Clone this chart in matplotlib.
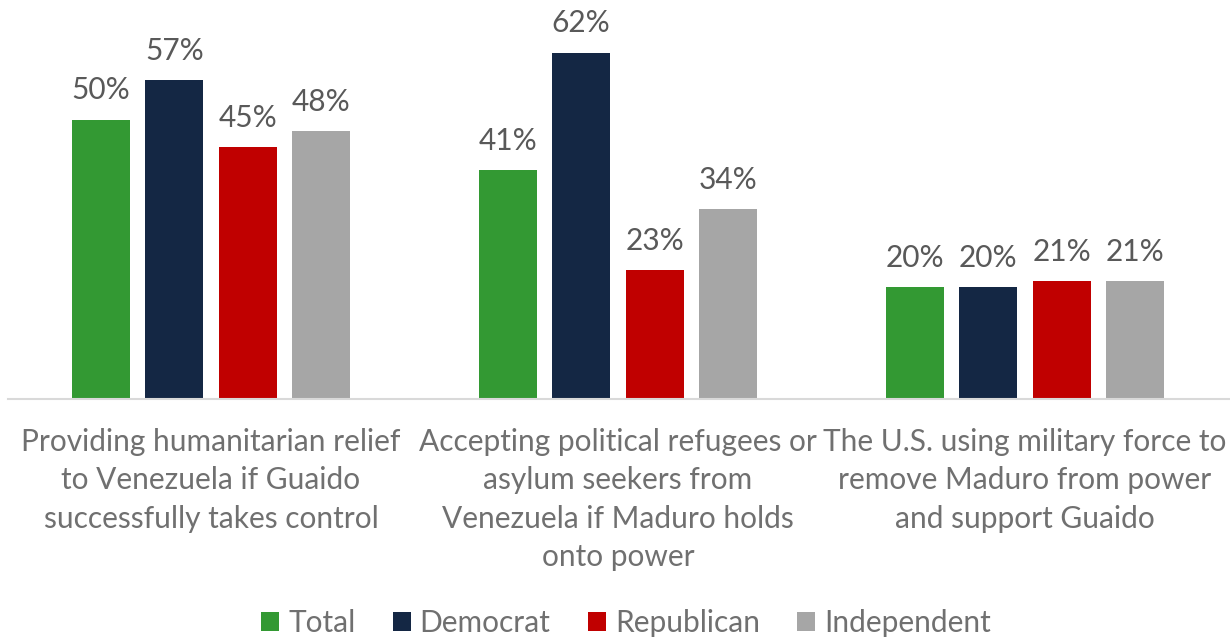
import matplotlib
matplotlib.use("Agg")
import matplotlib.pyplot as plt
import numpy as np

plt.rcParams['font.family'] = ['Lato', 'DejaVu Sans']

categories = [
    "Providing humanitarian relief\nto Venezuela if Guaido\nsuccessfully takes control",
    "Accepting political refugees or\nasylum seekers from\nVenezuela if Maduro holds\nonto power",
    "The U.S. using military force to\nremove Maduro from power\nand support Guaido",
]
series_names = ["Total", "Democrat", "Republican", "Independent"]
total = [50, 41, 20]
democrat = [57, 62, 20]
republican = [45, 23, 21]
independent = [48, 34, 21]
colors = ["#339933", "#142744", "#C00000", "#A6A6A6"]

values = [total, democrat, republican, independent]

fig = plt.figure(figsize=(12.3, 6.43), dpi=100)
ax = fig.add_axes([7.5/1230, 1-398.5/643, 1221/1230, 390.6/643])

x = np.arange(len(categories))
width = 0.1425
step = 0.1806
for i, (name, vals, c) in enumerate(zip(series_names, values, colors)):
    pos = x + (i - 1.5) * step
    ax.bar(pos, vals, width, color=c, label=name)
    for xp, v in zip(pos, vals):
        ax.text(xp, v + 2.7, f"{v}%", ha="center", va="bottom",
                fontsize=21.5, color="#595959")

ax.set_xlim(-0.5, 2.5)
ax.set_ylim(0, 70)
ax.set_yticks([])
ax.set_xticks([])
for s in ["top", "right", "left"]:
    ax.spines[s].set_visible(False)
ax.spines["bottom"].set_color("#D9D9D9")
ax.spines["bottom"].set_linewidth(1.5)

for xi, cat in zip(x, categories):
    ax.text(xi, -5.2, cat, ha="center", va="top", fontsize=21.5,
            color="#707070", linespacing=1.46)

leg = fig.legend(loc="lower center", bbox_to_anchor=(0.509, -0.033), ncol=4,
                 frameon=False, fontsize=21.5, handlelength=0.6, handleheight=0.6,
                 handletextpad=0.3, columnspacing=1.25)
for t in leg.get_texts():
    t.set_color("#707070")

fig.savefig("out.png", dpi=100)
